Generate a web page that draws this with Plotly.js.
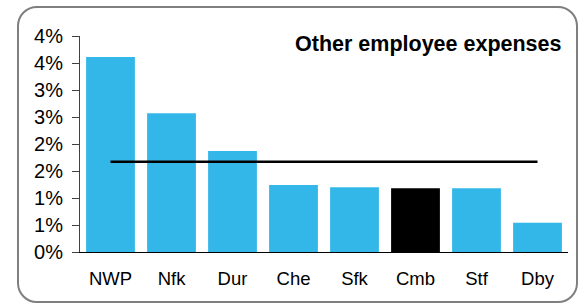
<!DOCTYPE html>
<html>
<head>
<meta charset="utf-8">
<script src="https://cdn.plot.ly/plotly-3.0.1.min.js"></script>
<style>html,body{margin:0;padding:0;background:#fff;}#chart{width:586px;height:304px;}</style>
</head>
<body>
<div id="chart"></div>
<script>
var categories = ['NWP', 'Nfk', 'Dur', 'Che', 'Sfk', 'Cmb', 'Stf', 'Dby'];
var expenseShare = [0.0361, 0.0257, 0.0187, 0.0124, 0.0120, 0.0118, 0.0118, 0.0054];
var averageLine = [0.0167, 0.0167, 0.0167, 0.0167, 0.0167, 0.0167, 0.0167, 0.0167];
var highlight = 'Cmb';
var yTickVals = [0, 0.005, 0.01, 0.015, 0.02, 0.025, 0.03, 0.035, 0.04];
var yTickText = ['0%', '1%', '1%', '2%', '2%', '3%', '3%', '4%', '4%'];
var chartTitle = 'Other employee expenses';

var blue = '#33b7e8';
var barColors = categories.map(function (c) { return c === highlight ? '#000000' : blue; });

var bars = {
  type: 'bar',
  x: categories,
  y: expenseShare,
  marker: { color: barColors, line: { width: 0 } },
  hoverinfo: 'x+y'
};
var avg = {
  type: 'scatter',
  mode: 'lines',
  x: categories,
  y: averageLine,
  line: { color: '#000000', width: 2.5 },
  hoverinfo: 'y'
};

// rounded border in paper coordinates (pixel geometry converted)
var L = 80, R = 18, T = 36, B = 52, W = 586, H = 304;
var pw = W - L - R, ph = H - T - B;
function px2x(p) { return (p - L) / pw; }
function py2y(p) { return (H - B - p) / ph; }
var bx0 = 18, bx1 = 577, by0 = 7, by1 = 302, rad = 19, k = 0.5523;
function P(x, y) { return px2x(x) + ',' + py2y(y); }
var path = 'M' + P(bx0 + rad, by0) +
  ' L' + P(bx1 - rad, by0) +
  ' C' + P(bx1 - rad + k * rad, by0) + ' ' + P(bx1, by0 + rad - k * rad) + ' ' + P(bx1, by0 + rad) +
  ' L' + P(bx1, by1 - rad) +
  ' C' + P(bx1, by1 - rad + k * rad) + ' ' + P(bx1 - rad + k * rad, by1) + ' ' + P(bx1 - rad, by1) +
  ' L' + P(bx0 + rad, by1) +
  ' C' + P(bx0 + rad - k * rad, by1) + ' ' + P(bx0, by1 - rad + k * rad) + ' ' + P(bx0, by1 - rad) +
  ' L' + P(bx0, by0 + rad) +
  ' C' + P(bx0, by0 + rad - k * rad) + ' ' + P(bx0 + rad - k * rad, by0) + ' ' + P(bx0 + rad, by0) + ' Z';

var layout = {
  width: W,
  height: H,
  margin: { l: L, r: R, t: T, b: B, pad: 0 },
  paper_bgcolor: '#ffffff',
  plot_bgcolor: '#ffffff',
  showlegend: false,
  bargap: 0.2,
  font: { family: 'Arial, "Liberation Sans", sans-serif', color: '#000000' },
  xaxis: {
    type: 'category',
    showgrid: false,
    zeroline: false,
    showline: true,
    linecolor: '#000000',
    linewidth: 1,
    ticks: '',
    tickfont: { size: 18.5, color: '#000000' },
    ticklabelstandoff: 10,
    fixedrange: true
  },
  yaxis: {
    range: [0, 0.04],
    tickmode: 'array',
    tickvals: yTickVals,
    ticktext: yTickText,
    showgrid: false,
    zeroline: false,
    showline: true,
    linecolor: '#404040',
    linewidth: 1,
    ticks: 'outside',
    ticklen: 7,
    tickcolor: '#404040',
    tickwidth: 1,
    tickfont: { size: 20, color: '#000000' },
    ticklabelstandoff: 5,
    fixedrange: true
  },
  annotations: [{
    xref: 'paper', yref: 'paper',
    x: px2x(564), y: py2y(44),
    xanchor: 'right', yanchor: 'middle',
    text: '<b>' + chartTitle + '</b>',
    showarrow: false,
    font: { size: 21.5, color: '#000000' }
  }],
  shapes: [{
    type: 'path',
    xref: 'paper', yref: 'paper',
    path: path,
    line: { color: '#7f7f7f', width: 2 },
    fillcolor: 'rgba(0,0,0,0)',
    layer: 'above'
  }]
};

Plotly.newPlot('chart', [bars, avg], layout, { displayModeBar: false, staticPlot: true });
</script>
</body>
</html>
